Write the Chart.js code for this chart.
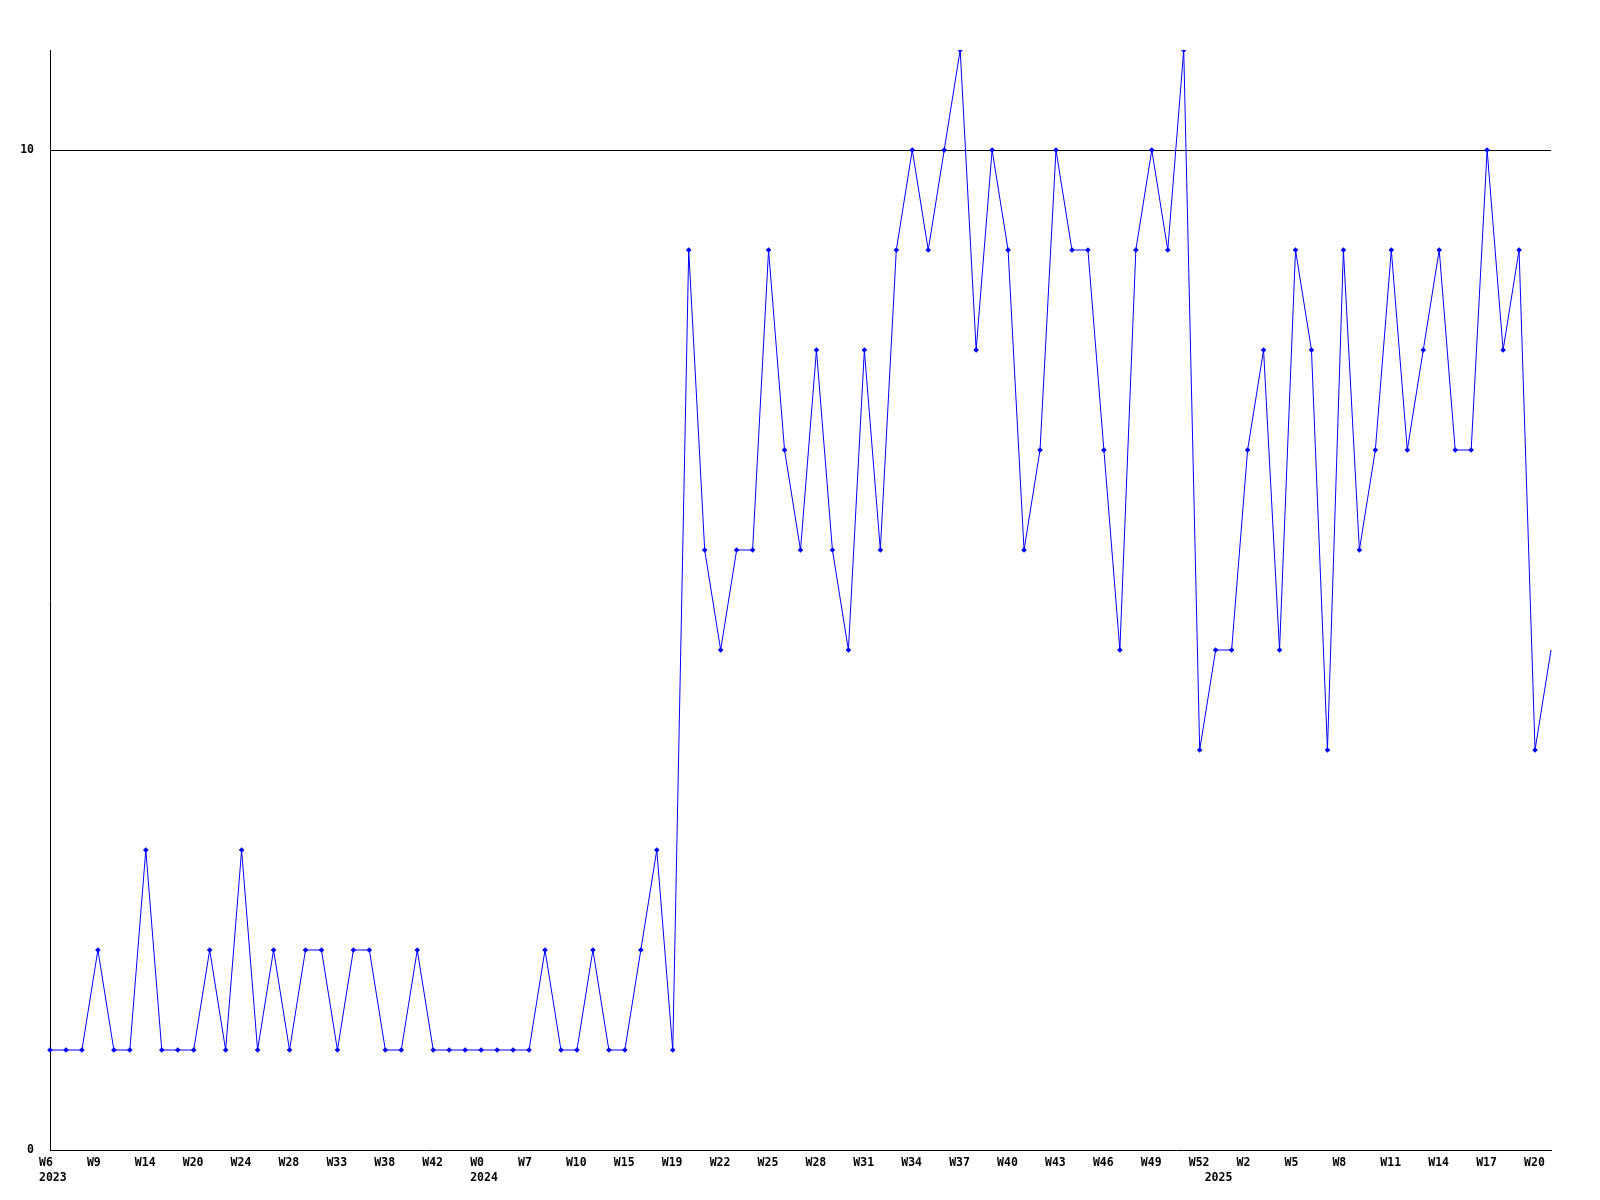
<!DOCTYPE html>
<html>
<head>
<meta charset="utf-8">
<script src="https://cdn.jsdelivr.net/npm/chart.js@4"></script>
<style>
  html, body { margin: 0; padding: 0; background: #fff; }
  canvas { display: block; }
</style>
</head>
<body>
<canvas id="weekChart" width="1600" height="1200"></canvas>
<script>
// one value per week, 2023 W6 .. 2025 W21
const values = [
  1, 1, 1, 2, 1, 1, 3, 1, 1, 1,
  2, 1, 3, 1, 2, 1, 2, 2, 1, 2,
  2, 1, 1, 2, 1, 1, 1, 1, 1, 1,
  1, 2, 1, 1, 2, 1, 1, 2, 3, 1,
  9, 6, 5, 6, 6, 9, 7, 6, 8, 6,
  5, 8, 6, 9, 10, 9, 10, 11, 8, 10,
  9, 6, 7, 10, 9, 9, 7, 5, 9, 10,
  9, 11, 4, 5, 5, 7, 8, 5, 9, 8,
  4, 9, 6, 7, 9, 7, 8, 9, 7, 7,
  10, 8, 9, 4, 5
];

// labels shown under every third week
const weekTicks = [
  'W6', 'W9', 'W14', 'W20', 'W24', 'W28', 'W33', 'W38', 'W42', 'W0',
  'W7', 'W10', 'W15', 'W19', 'W22', 'W25', 'W28', 'W31', 'W34', 'W37',
  'W40', 'W43', 'W46', 'W49', 'W52', 'W2', 'W5', 'W8', 'W11', 'W14',
  'W17', 'W20'
];
const tickStep = 3;

// year labels and the week index they sit under
const yearLabels = ['2023', '2024', '2025'];
const yearIndex = [0, 27, 73];

const yTicks = [0, 10];

const labels = values.map((v, i) => (i % tickStep === 0 ? weekTicks[i / tickStep] : ''));

const tickFont = { family: 'DejaVu Sans Mono', size: 11.5, weight: 'bold' };
const last = values.length - 1;

const ctx = document.getElementById('weekChart').getContext('2d');

new Chart(ctx, {
  type: 'line',
  data: {
    labels: labels,
    datasets: [{
      data: values,
      borderColor: '#0000ff',
      borderWidth: 1,
      backgroundColor: '#0000ff',
      pointBackgroundColor: '#0000ff',
      pointBorderColor: '#0000ff',
      pointBorderWidth: 0,
      pointStyle: 'rectRot',
      pointRadius: (c) => (c.dataIndex === last ? 0 : 2.8),
      tension: 0,
      fill: false
    }]
  },
  options: {
    responsive: false,
    animation: false,
    layout: { padding: { top: 50, right: 49, left: 0, bottom: 0 } },
    plugins: {
      legend: { display: false },
      tooltip: { enabled: false }
    },
    scales: {
      x: {
        type: 'category',
        position: 'bottom',
        offset: false,
        grid: { display: false },
        border: { color: '#000', width: 1 },
        ticks: {
          autoSkip: false,
          maxRotation: 0,
          minRotation: 0,
          align: 'start',
          labelOffset: -11,
          padding: -2,
          color: '#000',
          font: tickFont,
          callback: (v, i) => labels[i]
        },
        afterFit: (s) => { s.height = 16; }
      },
      xYear: {
        type: 'category',
        position: 'bottom',
        offset: false,
        grid: { display: false, drawTicks: false },
        border: { display: false },
        ticks: {
          autoSkip: false,
          maxRotation: 0,
          minRotation: 0,
          align: 'start',
          labelOffset: -11,
          padding: 5,
          color: '#000',
          font: tickFont,
          callback: (v, i) => {
            const k = yearIndex.indexOf(i);
            return k >= 0 ? yearLabels[k] : '';
          }
        },
        afterFit: (s) => { s.height = 34; }
      },
      y: {
        min: 0,
        max: 11,
        afterBuildTicks: (s) => { s.ticks = yTicks.map(v => ({ value: v })); },
        grid: {
          drawTicks: false,
          color: (c) => (c.tick && c.tick.value === 10 ? '#000' : 'rgba(0,0,0,0)'),
          lineWidth: 1
        },
        border: { color: '#000', width: 1 },
        ticks: {
          padding: 16,
          color: '#000',
          font: tickFont
        },
        afterFit: (s) => { s.width = 50; }
      }
    }
  }
});
</script>
</body>
</html>
